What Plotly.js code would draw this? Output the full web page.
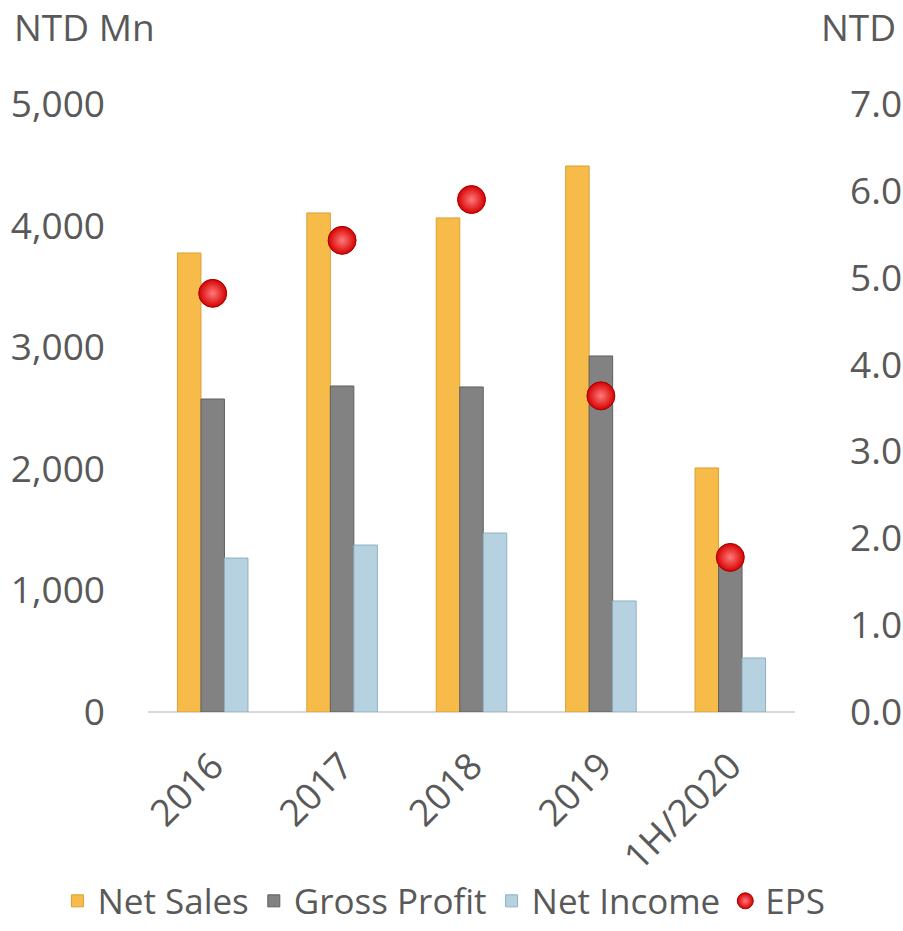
<!DOCTYPE html>
<html><head><meta charset="utf-8">
<script src="https://cdn.plot.ly/plotly-3.0.1.min.js"></script>
<style>body{margin:0;background:#fff}#c{width:903px;height:931px}</style>
</head><body><div id="c"></div>
<script>
const categories = ["2016","2017","2018","2019","1H/2020"];
const netSales = [3775, 4104, 4063, 4490, 2007];
const grossProfit = [2574, 2681, 2673, 2928, 1230];
const netIncome = [1266, 1373, 1472, 913, 444];
const eps = [4.82, 5.43, 5.90, 3.64, 1.78];
const leftTicks = [0,1000,2000,3000,4000,5000];
const leftTickText = ["0","1,000","2,000","3,000","4,000","5,000"];
const rightTicks = [0,1,2,3,4,5,6,7];
const rightTickText = ["0.0","1.0","2.0","3.0","4.0","5.0","6.0","7.0"];

const F = "Open Sans, Noto Sans, sans-serif";
const txt = "#595959";
const FS = 37;
const data = [
 {type:"bar", name:"Net Sales", x:categories, y:netSales,
  marker:{color:"#F7BB4A", line:{color:"#D9A032", width:1}}},
 {type:"bar", name:"Gross Profit", x:categories, y:grossProfit,
  marker:{color:"#828282", line:{color:"#606060", width:1}}},
 {type:"bar", name:"Net Income", x:categories, y:netIncome,
  marker:{color:"#B6D2E0", line:{color:"#8FAFBF", width:1}}},
 {type:"scatter", mode:"markers", name:"EPS", x:categories, y:eps, yaxis:"y2",
  marker:{color:"#D60000", size:28, line:{color:"#A00000", width:1},
          gradient:{type:"radial", color:"#FF7A7A"}}}
];
const layout = {
 width:903, height:931,
 margin:{l:148, r:108, t:104, b:219, autoexpand:false},
 paper_bgcolor:"#fff", plot_bgcolor:"#fff",
 barmode:"group", bargap:0.455, bargroupgap:0,
 font:{family:F, color:txt, size:FS},
 showlegend:true,
 legend:{orientation:"h", x:-0.14, xanchor:"left",
   y:-0.311, yanchor:"middle", bgcolor:"rgba(0,0,0,0)",
   font:{size:35, color:txt}, itemwidth:30, traceorder:"normal"},
 xaxis:{type:"category", tickangle:-45, showgrid:false, showline:false, automargin:false,
   tickfont:{size:FS, color:txt}, ticks:"", zeroline:false, ticklabelstandoff:24},
 yaxis:{range:[0,5000], tickvals:leftTicks, ticktext:leftTickText, showgrid:false, automargin:false,
   zeroline:true, zerolinecolor:"#D9D9D9", zerolinewidth:2, ticks:"", ticklabelstandoff:42,
   tickfont:{size:FS, color:txt}, showline:false},
 yaxis2:{range:[0,7], overlaying:"y", side:"right", tickvals:rightTicks, ticktext:rightTickText,
   showgrid:false, zeroline:false, ticks:"", ticklabelstandoff:54, automargin:false,
   tickfont:{size:FS, color:txt}, showline:false},
 annotations:[
  {text:"NTD Mn", xref:"paper", yref:"paper", x:-0.210, y:1.128, xanchor:"left", yanchor:"middle",
   showarrow:false, font:{size:FS, color:txt}},
  {text:"NTD", xref:"paper", yref:"paper", x:1.159, y:1.128, xanchor:"right", yanchor:"middle",
   showarrow:false, font:{size:FS, color:txt}}
 ]
};
Plotly.newPlot("c", data, layout, {displayModeBar:false});
</script></body></html>
